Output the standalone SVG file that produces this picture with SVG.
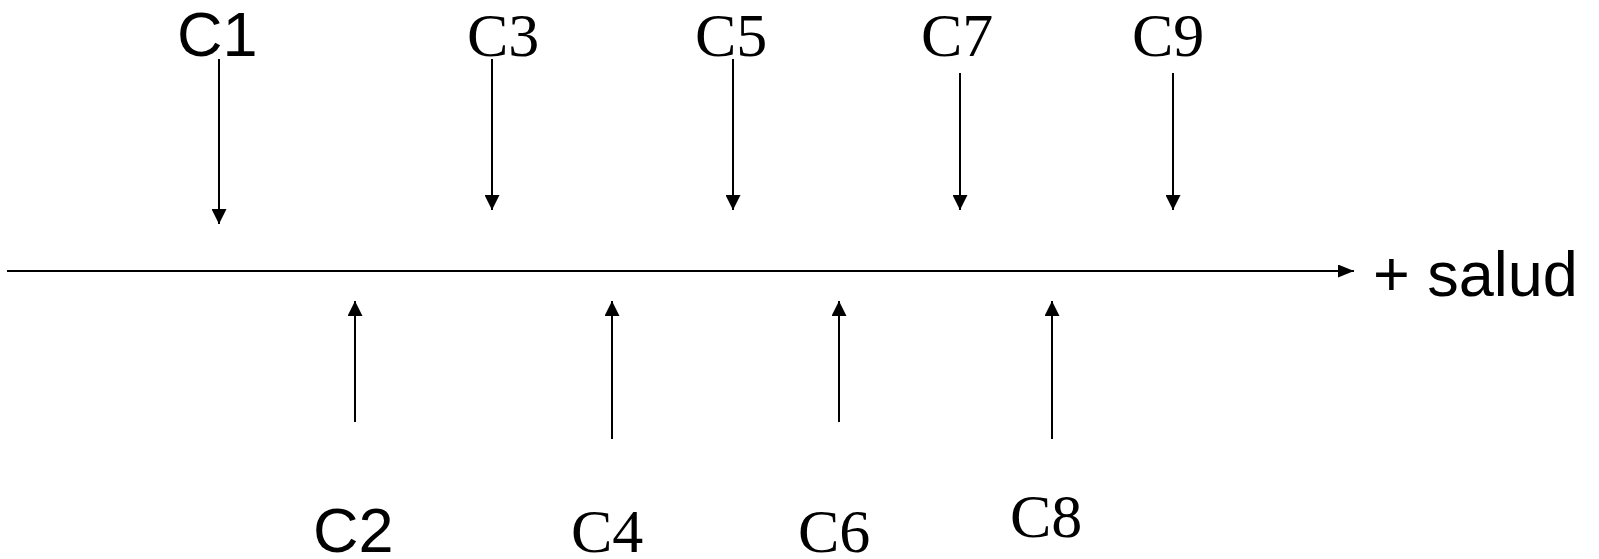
<svg xmlns="http://www.w3.org/2000/svg" width="1599" height="559" viewBox="0 0 1599 559">
<style>
.sans{font-family:"Liberation Sans",Arial,sans-serif;font-size:63px;fill:#000}
.serif{font-family:"Liberation Serif","Times New Roman",serif;font-size:62px;fill:#000}
.ln{stroke:#000;stroke-width:2;fill:none}
</style>
<defs>
<marker id="ah" markerUnits="userSpaceOnUse" markerWidth="15" markerHeight="15" refX="15" refY="7.5" orient="auto">
<path d="M0,0 L15,7.5 L0,15 z" fill="#000"/>
</marker>
<marker id="ahh" markerUnits="userSpaceOnUse" markerWidth="16" markerHeight="13" refX="16" refY="6.5" orient="auto">
<path d="M0,0 L16,6.5 L0,13 z" fill="#000"/>
</marker>
</defs>
<g id="connectors">
<line class="ln" x1="7" y1="271" x2="1354" y2="271" marker-end="url(#ahh)"/>
<line class="ln" x1="219" y1="59" x2="219" y2="224" marker-end="url(#ah)"/>
<line class="ln" x1="492" y1="59" x2="492" y2="210" marker-end="url(#ah)"/>
<line class="ln" x1="733" y1="59" x2="733" y2="210" marker-end="url(#ah)"/>
<line class="ln" x1="960" y1="73" x2="960" y2="210" marker-end="url(#ah)"/>
<line class="ln" x1="1173" y1="73" x2="1173" y2="210" marker-end="url(#ah)"/>
<line class="ln" x1="355" y1="422" x2="355" y2="301" marker-end="url(#ah)"/>
<line class="ln" x1="612" y1="439" x2="612" y2="301" marker-end="url(#ah)"/>
<line class="ln" x1="839" y1="422" x2="839" y2="301" marker-end="url(#ah)"/>
<line class="ln" x1="1052" y1="439" x2="1052" y2="301" marker-end="url(#ah)"/>
</g>
<g id="salud"><text class="sans" x="1373" y="296">+ salud</text></g>
<g id="C1"><text class="sans" x="177" y="56">C1</text></g>
<g id="C3"><text class="serif" x="467" y="56">C3</text></g>
<g id="C5"><text class="serif" x="695" y="56">C5</text></g>
<g id="C7"><text class="serif" x="921" y="56">C7</text></g>
<g id="C9"><text class="serif" x="1132" y="56">C9</text></g>
<g id="C2"><text class="sans" x="313" y="552">C2</text></g>
<g id="C4"><text class="serif" x="571" y="552">C4</text></g>
<g id="C6"><text class="serif" x="798" y="552">C6</text></g>
<g id="C8"><text class="serif" x="1010" y="537">C8</text></g>
</svg>
